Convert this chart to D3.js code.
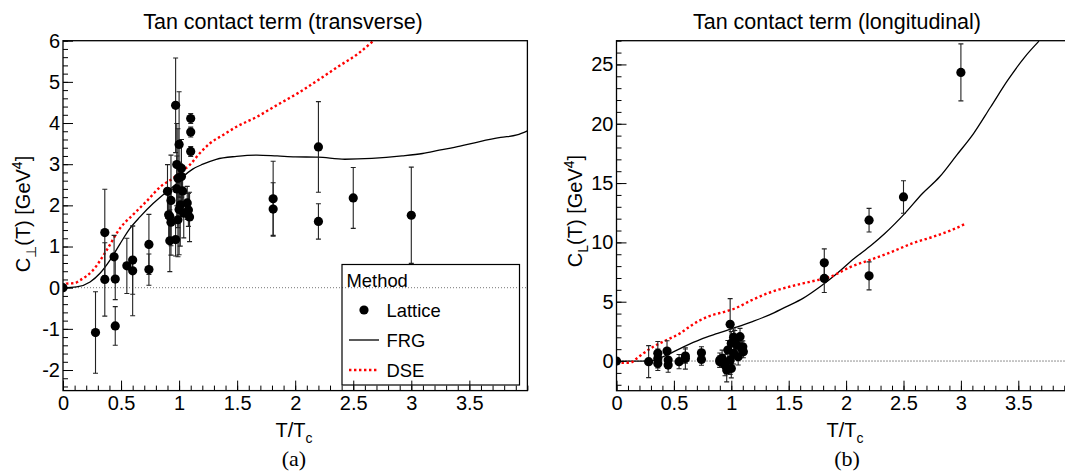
<!DOCTYPE html>
<html>
<head>
<meta charset="utf-8">
<script src="https://cdn.jsdelivr.net/npm/d3@7"></script>
<style>
  html, body { margin: 0; padding: 0; background: #fff; }
  svg { display: block; }
  text { fill: #000; }
</style>
</head>
<body>
<svg id="chart" width="1065" height="472"></svg>
<script>
// ---------------- DATA ----------------
// Transverse lattice points: T/Tc, C_perp, error
const transT   = [0, 0.28, 0.36, 0.36, 0.44, 0.45, 0.45, 0.55, 0.60, 0.60, 0.74, 0.74,
                  0.90, 0.91, 0.92, 0.93, 0.93, 0.92, 0.97, 0.97, 0.98, 0.99, 1.00, 1.01, 0.99,
                  1.02, 1.02, 1.04, 1.03, 1.07, 1.08, 1.09, 1.10, 1.10, 1.10, 0.98, 1.00,
                  1.81, 1.81, 2.20, 2.20, 2.50, 3.00];
const transC   = [0, -1.09, 1.34, 0.20, 0.75, 0.21, -0.93, 0.53, 0.67, 0.41, 1.05, 0.44,
                  2.34, 1.77, 1.73, 1.59, 2.12, 1.14, 1.17, 4.43, 2.99, 2.66, 3.48, 2.01, 1.65,
                  2.90, 2.70, 1.81, 2.35, 2.06, 1.89, 1.72, 4.11, 3.78, 3.31, 2.40, 1.90,
                  2.16, 1.91, 3.42, 1.61, 2.18, 1.76];
const transErr = [0.03, 0.99, 1.05, 0.89, 0.52, 0.50, 0.47, 0.67, 0.83, 1.09, 0.73, 0.38,
                  0.65, 0.60, 0.60, 0.80, 1.10, 0.75, 0.40, 1.15, 1.00, 1.20, 1.28, 1.00, 0.90,
                  0.70, 0.90, 0.60, 0.50, 0.40, 0.40, 0.60, 0.12, 0.12, 0.12, 0.80, 1.10,
                  0.91, 0.64, 1.10, 0.43, 0.74, 1.17];

// Transverse FRG curve
const frgTransT = [0, 0.118, 0.233, 0.319, 0.405, 0.49, 0.577, 0.663, 0.778, 0.893, 0.98, 1.044,
                   1.117, 1.205, 1.32, 1.495, 1.67, 1.845, 2.0, 2.195, 2.427, 2.66, 2.92, 3.097,
                   3.24, 3.42, 3.59, 3.77, 3.91, 4.0];
const frgTransC = [0, 0.02, 0.14, 0.35, 0.67, 1.06, 1.44, 1.72, 2.05, 2.33, 2.53, 2.72,
                   2.88, 3.0, 3.12, 3.19, 3.22, 3.20, 3.18, 3.17, 3.12, 3.14, 3.20, 3.26,
                   3.34, 3.44, 3.55, 3.65, 3.71, 3.81];

// Transverse DSE curve
const dseTransT = [0, 0.03, 0.10, 0.146, 0.26, 0.376, 0.49, 0.606, 0.72, 0.85, 0.95, 1.0, 1.094,
                   1.176, 1.263, 1.379, 1.495, 1.67, 1.845, 2.02, 2.195, 2.37, 2.544, 2.675, 2.8];
const dseTransC = [0, 0.10, 0.11, 0.18, 0.43, 0.91, 1.44, 1.78, 2.10, 2.48, 2.66, 2.78, 2.99,
                   3.26, 3.50, 3.71, 3.91, 4.15, 4.44, 4.72, 5.04, 5.37, 5.69, 6.0, 6.3];

// Longitudinal lattice points: T/Tc, C_L, error
const longT   = [0, 0.28, 0.36, 0.36, 0.36, 0.44, 0.45, 0.45, 0.545, 0.60, 0.60, 0.74, 0.74,
                 0.90, 0.90, 0.92, 0.945, 0.96, 0.99, 0.97, 1.00, 0.99, 1.00, 1.02, 1.03, 1.05,
                 1.06, 1.076, 1.09, 1.105, 1.10, 1.02,
                 1.81, 1.81, 2.20, 2.20, 2.50, 3.00];
const longC   = [0, -0.05, 0.65, 0.22, -0.20, 0.84, 0.08, -0.34, -0.05, 0.22, 0.42, 0.70, 0.14,
                 0.08, -0.05, 0.22, -0.34, -0.76, 0.08, 0.93, -0.62, 3.10, 1.49, 0.65, 1.77, 1.35,
                 0.36, 2.05, 1.07, 0.78, 1.20, 2.00,
                 8.28, 6.96, 11.87, 7.18, 13.83, 24.33];
const longErr = [0.05, 1.35, 1.00, 0.80, 0.60, 0.87, 0.70, 0.60, 0.60, 0.90, 0.60, 0.50, 0.50,
                 0.60, 0.50, 0.70, 0.90, 1.00, 1.20, 0.80, 0.80, 2.16, 1.00, 0.90, 0.80, 0.90,
                 0.70, 0.70, 0.60, 0.50, 0.50, 0.70,
                 1.17, 1.18, 1.00, 1.18, 1.37, 2.40];

// Longitudinal FRG curve
const frgLongT = [0, 0.15, 0.29, 0.436, 0.584, 0.733, 0.881, 1.03, 1.178, 1.327, 1.476, 1.624,
                  1.773, 1.921, 2.07, 2.219, 2.337, 2.516, 2.665, 2.813, 2.962, 3.11, 3.259,
                  3.407, 3.556, 3.68];
const frgLongC = [0, 0.0, 0.02, 0.5, 1.2, 1.83, 2.33, 2.81, 3.31, 3.87, 4.57, 5.28,
                  6.26, 7.38, 8.64, 9.76, 10.75, 12.49, 14.12, 15.51, 17.34, 19.17, 21.41,
                  23.65, 25.62, 26.96];

// Longitudinal DSE curve
const dseLongT = [0, 0.12, 0.176, 0.234, 0.32, 0.437, 0.553, 0.643, 0.792, 0.94, 1.03, 1.178,
                  1.327, 1.505, 1.684, 1.862, 2.04, 2.219, 2.397, 2.575, 2.753, 2.931, 3.044];
const dseLongC = [-0.15, -0.14, 0.22, 0.65, 1.2, 1.77, 2.33, 2.95, 3.73, 4.15, 4.43, 5.13,
                  5.75, 6.26, 6.68, 7.1, 7.94, 8.56, 9.2, 9.91, 10.46, 11.09, 11.59];

// Tick values / labels
const xMajorTicks = [0, 0.5, 1, 1.5, 2, 2.5, 3, 3.5];
const transYMajor = [-2, -1, 0, 1, 2, 3, 4, 5, 6];
const longYMajor  = [0, 5, 10, 15, 20, 25];

const titles = ["Tan contact term (transverse)", "Tan contact term (longitudinal)"];
const legendLabels = ["Lattice", "FRG", "DSE"];

// ---------------- DRAWING ----------------
const SANS = "'Liberation Sans', Arial, Helvetica, sans-serif";
const SERIF = "'Liberation Serif', 'Times New Roman', serif";
const svg = d3.select("#chart");
const fmt = d => String(d);

const panels = [
  { id: "a", x0: 63, x1: 527.4, yTop: 40.7, yBot: 390.6, yDomain: [-2.5, 6],
    yMajor: transYMajor, yMinor: d3.range(-2.4, 6.001, 0.2),
    pts: transT.map((t, i) => ({ t, c: transC[i], e: transErr[i] })),
    frg: frgTransT.map((t, i) => [t, frgTransC[i]]),
    dse: dseTransT.map((t, i) => [t, dseTransC[i]]),
    title: titles[0], titleX: 283, sub: "\u22A5",
    yTitleX: 30, yTitleY: 214, xTitleX: 294, labelX: 294, zeroColor: "#777" },
  { id: "b", x0: 616.5, x1: 1075.7, yTop: 40.7, yBot: 390.7, yDomain: [-2.5, 27],
    yMajor: longYMajor, yMinor: d3.range(-2, 27.001, 1),
    pts: longT.map((t, i) => ({ t, c: longC[i], e: longErr[i] })),
    frg: frgLongT.map((t, i) => [t, frgLongC[i]]),
    dse: dseLongT.map((t, i) => [t, dseLongC[i]]),
    title: titles[1], titleX: 837, sub: "L",
    yTitleX: 582, yTitleY: 211, xTitleX: 845, labelX: 847, zeroColor: "#222" }
];

panels.forEach(p => {
  const x = d3.scaleLinear().domain([0, 4]).range([p.x0, p.x1]);
  const y = d3.scaleLinear().domain(p.yDomain).range([p.yBot, p.yTop]);
  const g = svg.append("g").style("font-family", SANS);

  const clipId = "clip-" + p.id;
  svg.append("defs").append("clipPath").attr("id", clipId)
    .append("rect").attr("x", p.x0).attr("y", p.yTop)
    .attr("width", p.x1 - p.x0).attr("height", p.yBot - p.yTop);

  // zero dotted line
  g.append("line")
    .attr("x1", x(0)).attr("x2", x(4)).attr("y1", y(0)).attr("y2", y(0))
    .attr("stroke", p.zeroColor).attr("stroke-width", 1).attr("stroke-dasharray", "1,2");

  const plot = g.append("g").attr("clip-path", `url(#${clipId})`);

  // FRG
  const line = d3.line().x(d => x(d[0])).y(d => y(d[1])).curve(d3.curveMonotoneX);
  plot.append("path").datum(p.frg).attr("d", line)
    .attr("fill", "none").attr("stroke", "#000").attr("stroke-width", 1.3);
  // DSE
  plot.append("path").datum(p.dse).attr("d", line)
    .attr("fill", "none").attr("stroke", "#ff0000").attr("stroke-width", 2.4)
    .attr("stroke-dasharray", "2.4,2.6");

  // error bars
  const eb = plot.append("g").attr("stroke", "#222").attr("stroke-width", 1.1);
  p.pts.forEach(d => {
    const cx = x(d.t), yl = y(d.c - d.e), yh = y(d.c + d.e);
    eb.append("line").attr("x1", cx).attr("x2", cx).attr("y1", yl).attr("y2", yh);
    eb.append("line").attr("x1", cx - 2.5).attr("x2", cx + 2.5).attr("y1", yl).attr("y2", yl);
    eb.append("line").attr("x1", cx - 2.5).attr("x2", cx + 2.5).attr("y1", yh).attr("y2", yh);
  });
  plot.append("g").selectAll("circle").data(p.pts).join("circle")
    .attr("cx", d => x(d.t)).attr("cy", d => y(d.c)).attr("r", 4.6).attr("fill", "#000");

  // axes (ticks inward)
  const xAxisMinor = d3.axisBottom(x).tickValues(d3.range(0, 4.001, 0.1)).tickSize(-5).tickFormat("");
  const xAxisMajor = d3.axisBottom(x).tickValues(xMajorTicks).tickSize(-10).tickPadding(5).tickFormat(fmt);
  const yAxisMinor = d3.axisLeft(y).tickValues(p.yMinor).tickSize(-5).tickFormat("");
  const yAxisMajor = d3.axisLeft(y).tickValues(p.yMajor).tickSize(-10).tickPadding(3).tickFormat(fmt);

  const styleAxis = sel => {
    sel.select(".domain").remove();
    sel.selectAll("line").attr("stroke", "#000").attr("stroke-width", 1);
    sel.selectAll("text").style("font-size", "20px").style("font-family", SANS).style("fill", "#000");
  };
  g.append("g").attr("transform", `translate(0,${p.yBot})`).call(xAxisMinor).call(styleAxis);
  g.append("g").attr("transform", `translate(0,${p.yBot})`).call(xAxisMajor).call(styleAxis);
  g.append("g").attr("transform", `translate(${p.x0},0)`).call(yAxisMinor).call(styleAxis);
  g.append("g").attr("transform", `translate(${p.x0},0)`).call(yAxisMajor).call(styleAxis);

  // frame
  g.append("rect").attr("x", p.x0).attr("y", p.yTop)
    .attr("width", p.x1 - p.x0).attr("height", p.yBot - p.yTop)
    .attr("fill", "none").attr("stroke", "#000").attr("stroke-width", 1.3);

  // title
  g.append("text").attr("x", p.titleX).attr("y", 29).attr("text-anchor", "middle")
    .style("font-size", "21.5px").text(p.title);

  // x title
  const xt = g.append("text").attr("x", p.xTitleX).attr("y", 437).attr("text-anchor", "middle")
    .style("font-size", "20px");
  xt.append("tspan").text("T/T");
  xt.append("tspan").style("font-size", "14px").attr("dy", 6).text("c");

  // y title
  const yt = g.append("text").attr("transform", `translate(${p.yTitleX},${p.yTitleY}) rotate(-90)`)
    .attr("text-anchor", "middle").style("font-size", "20px");
  yt.append("tspan").text("C");
  yt.append("tspan").style("font-size", "14px").attr("dy", 6).text(p.sub);
  yt.append("tspan").attr("dy", -6).text("(T) [GeV");
  yt.append("tspan").style("font-size", "14px").attr("dy", -8).text("4");
  yt.append("tspan").attr("dy", 8).text("]");

  // panel label (serif)
  g.append("text").attr("x", p.labelX).attr("y", 466).attr("text-anchor", "middle")
    .style("font-family", SERIF).style("font-size", "22px").text("(" + p.id + ")");
});

// legend (left panel)
const lg = svg.append("g").style("font-family", SANS);
lg.append("rect").attr("x", 342).attr("y", 264.5).attr("width", 177.5).attr("height", 120.5)
  .attr("fill", "none").attr("stroke", "#000").attr("stroke-width", 1.2);
lg.append("text").attr("x", 346.5).attr("y", 287).style("font-size", "18.4px").text("Method");
lg.append("circle").attr("cx", 364).attr("cy", 310).attr("r", 4.6).attr("fill", "#000");
lg.append("line").attr("x1", 349).attr("x2", 379).attr("y1", 340).attr("y2", 340)
  .attr("stroke", "#000").attr("stroke-width", 1.3);
lg.append("line").attr("x1", 349).attr("x2", 379).attr("y1", 370).attr("y2", 370)
  .attr("stroke", "#ff0000").attr("stroke-width", 2.4).attr("stroke-dasharray", "2.4,2.6");
legendLabels.forEach((l, i) => {
  lg.append("text").attr("x", 386.5).attr("y", 316.5 + i * 30).style("font-size", "18.4px").text(l);
});
</script>
</body>
</html>
